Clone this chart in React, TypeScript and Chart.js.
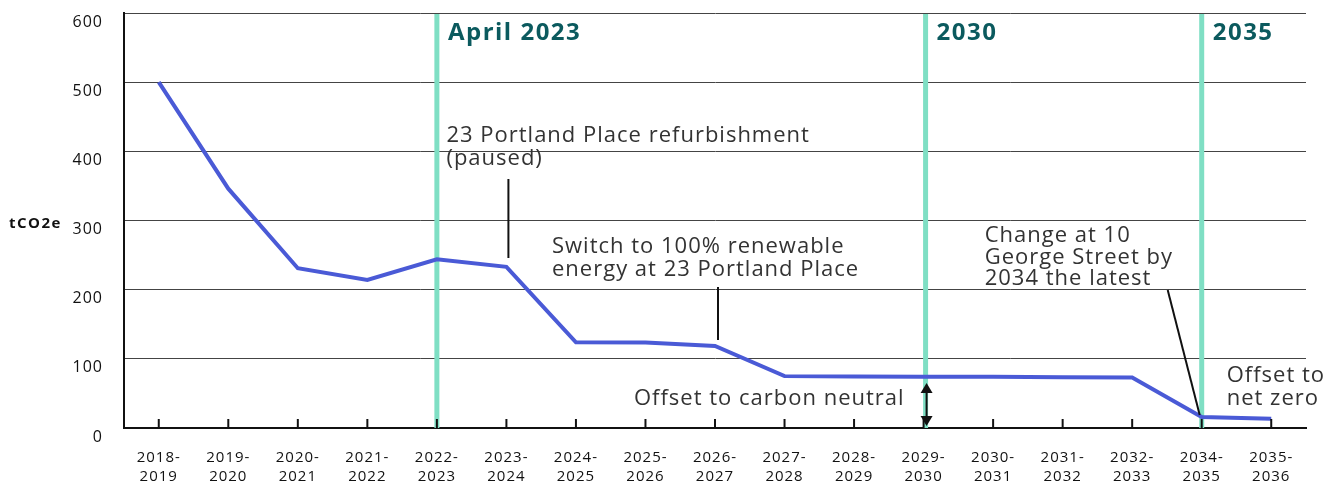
import React, { useEffect, useRef } from "react";
import { Chart, registerables } from "chart.js";

Chart.register(...registerables);

const categories: string[][] = [
  ["2018-", "2019"], ["2019-", "2020"], ["2020-", "2021"], ["2021-", "2022"],
  ["2022-", "2023"], ["2023-", "2024"], ["2024-", "2025"], ["2025-", "2026"],
  ["2026-", "2027"], ["2027-", "2028"], ["2028-", "2029"], ["2029-", "2030"],
  ["2030-", "2031"], ["2031-", "2032"], ["2032-", "2033"], ["2034-", "2035"],
  ["2035-", "2036"],
];
const emissions: number[] = [
  500, 346, 231, 214, 244, 233, 124, 123.5, 118.5, 75, 74.5, 74, 74, 73.5, 73, 16, 13.5,
];
const yMin = 0;
const yMax = 600;
const yStep = 100;
const milestoneIndex: number[] = [4, 11, 15];
const milestoneLabels: string[] = ["April 2023", "2030", "2035"];
const yAxisLabel = "tCO2e";

const FONT = "'Open Sans', sans-serif";
const TEXT = "#333333";

const spacingPlugin = {
  id: "spacing",
  beforeDraw(chart: any) {
    chart.ctx.letterSpacing = "1px";
  },
};

const overlayPlugin = {
  id: "overlay",
  beforeDatasetsDraw(chart: any) {
    const { ctx, chartArea, scales } = chart;
    const x = scales.x;
    ctx.save();
    ctx.strokeStyle = "#7fdfc4";
    ctx.lineWidth = 5;
    milestoneIndex.forEach((i) => {
      const px = x.getPixelForValue(i) + (i === 11 ? 2 : 0);
      ctx.beginPath();
      ctx.moveTo(px, chartArea.top + 1);
      ctx.lineTo(px, chartArea.bottom);
      ctx.stroke();
    });
    ctx.fillStyle = "#0b5a5e";
    ctx.font = `bold 24px ${FONT}`;
    ctx.letterSpacing = "1.5px";
    ctx.textBaseline = "alphabetic";
    ctx.textAlign = "left";
    milestoneIndex.forEach((i, k) => {
      const px = x.getPixelForValue(i) + (i === 11 ? 2 : 0);
      ctx.fillText(milestoneLabels[k], px + 11, chartArea.top + 27);
    });
    ctx.restore();
  },
  afterDatasetsDraw(chart: any) {
    const { ctx, chartArea, scales } = chart;
    const x = scales.x;
    const y = scales.y;
    ctx.save();
    ctx.strokeStyle = "#111";
    ctx.lineWidth = 2;
    categories.forEach((_, i) => {
      const px = x.getPixelForValue(i);
      ctx.beginPath();
      ctx.moveTo(px, chartArea.bottom);
      ctx.lineTo(px, chartArea.bottom - 9);
      ctx.stroke();
    });

    ctx.fillStyle = "#111";
    ctx.font = `bold 15px ${FONT}`;
    ctx.letterSpacing = "1.5px";
    ctx.textAlign = "left";
    ctx.textBaseline = "alphabetic";
    ctx.fillText(yAxisLabel, 9, y.getPixelForValue(300) + 7);

    ctx.fillStyle = TEXT;
    ctx.font = `22px ${FONT}`;
    ctx.letterSpacing = "1px";
    const x5 = x.getPixelForValue(5);
    const x8 = x.getPixelForValue(8);
    const x11 = x.getPixelForValue(11);
    const x15 = x.getPixelForValue(15);

    ctx.fillText("23 Portland Place refurbishment", x5 - 60, 142);
    ctx.fillText("(paused)", x5 - 60, 165);
    ctx.beginPath();
    ctx.moveTo(x5 + 2, 179);
    ctx.lineTo(x5 + 2, 258);
    ctx.stroke();

    ctx.fillText("Switch to 100% renewable", x8 - 163, 253);
    ctx.fillText("energy at 23 Portland Place", x8 - 163, 276);
    ctx.beginPath();
    ctx.moveTo(x8 + 3, 287);
    ctx.lineTo(x8 + 3, 340);
    ctx.stroke();

    ctx.textAlign = "right";
    ctx.fillText("Offset to carbon neutral", x11 - 19, 405);
    ctx.textAlign = "left";
    const ax = x11 + 3;
    ctx.beginPath();
    ctx.moveTo(ax, 390);
    ctx.lineTo(ax, 419);
    ctx.stroke();
    ctx.fillStyle = "#111";
    ctx.beginPath();
    ctx.moveTo(ax, 383);
    ctx.lineTo(ax - 6, 393);
    ctx.lineTo(ax + 6, 393);
    ctx.closePath();
    ctx.fill();
    ctx.beginPath();
    ctx.moveTo(ax, 426);
    ctx.lineTo(ax - 6, 416);
    ctx.lineTo(ax + 6, 416);
    ctx.closePath();
    ctx.fill();

    ctx.fillStyle = TEXT;
    ctx.fillText("Change at 10", x15 - 217, 242);
    ctx.fillText("George Street by", x15 - 217, 264);
    ctx.fillText("2034 the latest", x15 - 217, 285);
    ctx.strokeStyle = "#111";
    ctx.beginPath();
    ctx.moveTo(x15 - 34, 290);
    ctx.lineTo(x15 - 2, 415);
    ctx.stroke();

    ctx.fillText("Offset to", x15 + 25, 382);
    ctx.fillText("net zero", x15 + 25, 405);
    ctx.restore();
  },
};

export default function App() {
  const ref = useRef<HTMLCanvasElement | null>(null);
  useEffect(() => {
    if (!ref.current) return;
    const chart = new Chart(ref.current, {
      type: "line",
      data: {
        labels: categories,
        datasets: [
          {
            data: emissions,
            borderColor: "#4a5ad6",
            borderWidth: 4,
            pointRadius: 0,
            tension: 0,
            fill: false,
          },
        ],
      },
      options: {
        animation: false,
        responsive: false,
        maintainAspectRatio: false,
        layout: { padding: { top: 13, right: 33, left: 0, bottom: 0 } },
        plugins: { legend: { display: false }, tooltip: { enabled: false } },
        scales: {
          x: {
            type: "category",
            offset: true,
            grid: { display: false, drawTicks: false },
            border: { display: true, color: "#111", width: 2 },
            ticks: {
              color: "#111",
              font: { family: FONT, size: 15, lineHeight: 1.27 },
              padding: 20,
              maxRotation: 0,
              autoSkip: false,
            },
            afterFit: (s: any) => {
              s.height = 58;
              s.paddingLeft = 0;
              s.paddingRight = 0;
            },
          },
          y: {
            min: yMin,
            max: yMax,
            grid: { color: "#444", lineWidth: 1, drawTicks: false },
            border: { display: true, color: "#111", width: 2 },
            ticks: {
              stepSize: yStep,
              color: "#111",
              padding: 21,
              labelOffset: 9,
              font: { family: FONT, size: 16 },
            },
            afterFit: (s: any) => {
              s.width = 124;
              s.paddingTop = 0;
              s.paddingBottom = 0;
            },
          },
        },
      },
      plugins: [spacingPlugin, overlayPlugin],
    });
    return () => chart.destroy();
  }, []);
  return (
    <div style={{ position: "fixed", left: 0, top: 0, width: 1339, height: 486, background: "#fff" }}>
      <canvas ref={ref} width={1339} height={486} style={{ display: "block", width: 1339, height: 486 }} />
    </div>
  );
}
